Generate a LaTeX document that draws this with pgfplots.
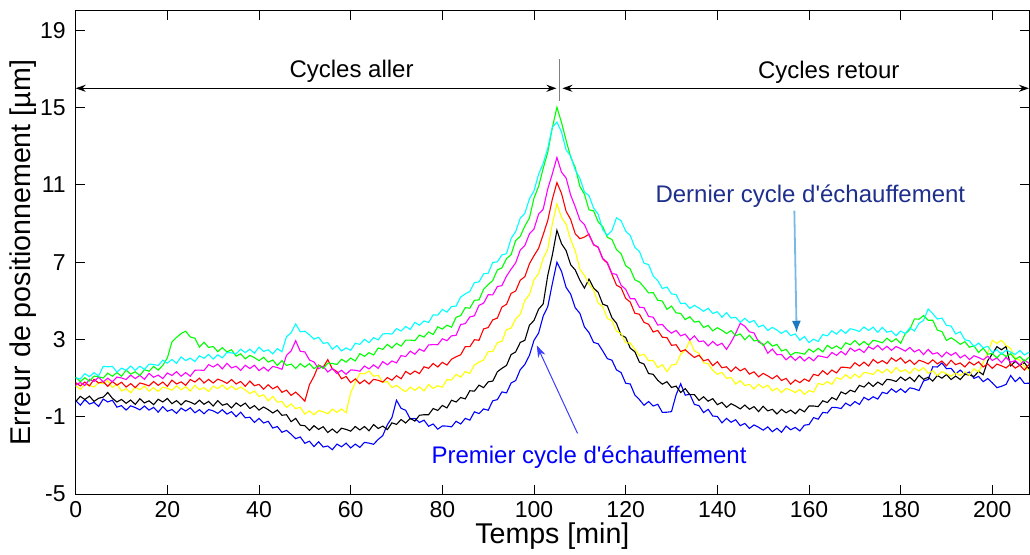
\documentclass[border=0pt]{standalone}
\usepackage{pgfplots}
\pgfplotsset{compat=1.18}
\usepackage{fontspec}
\setmainfont{Liberation Sans}
\usetikzlibrary{arrows.meta}

\definecolor{navytext}{RGB}{30,47,140}
\definecolor{skyline}{RGB}{120,185,230}
\definecolor{skyhead}{RGB}{30,120,190}
\definecolor{firstblue}{RGB}{60,60,255}
\definecolor{cblue}{RGB}{0,0,255}
\definecolor{cblack}{RGB}{0,0,0}
\definecolor{cyellow}{RGB}{255,255,0}
\definecolor{cred}{RGB}{255,0,0}
\definecolor{cmagenta}{RGB}{255,0,255}
\definecolor{cgreen}{RGB}{0,255,0}
\definecolor{ccyan}{RGB}{0,255,255}

\begin{document}
\begin{tikzpicture}
\begin{axis}[
  scale only axis,
  width=476.7pt, height=241.6pt,
  xmin=0, xmax=208, ymin=-5, ymax=20,
  xtick={0,20,...,200},
  ytick={-5,-1,3,7,11,15,19},
  tick pos=both,
  xticklabel pos=left, yticklabel pos=left,
  tick align=inside,
  major tick length=4.5pt,
  tick style={black, line width=0.5pt},
  axis line style={line width=0.5pt},
  ticklabel style={font=\fontsize{11.5}{13}\selectfont},
  yticklabel style={xshift=-1.5pt},
  /pgf/number format/assume math mode=true,
  xlabel={Temps [min]},
  ylabel={Erreur de positionnement [µm]},
  label style={font=\fontsize{14.3}{16}\selectfont},
  xlabel style={at={(axis description cs:0.5,-0.087)}, anchor=center},
  ylabel style={at={(axis description cs:-0.0548,0.5)}, anchor=center, rotate=0},
  clip=false,
  every axis plot/.append style={line width=0.55pt},
]

% cycle 1 (premier cycle)
\addplot[cblue] coordinates {(0,-0.16)(1,-0.40)(2,-0.11)(3,-0.34)(4,-0.25)(5,-0.46)(6,-0.08)(7,-0.23)(8,-0.14)(9,-0.50)(10,-0.42)(11,-0.65)(12,-0.43)(13,-0.52)(14,-0.64)(15,-0.44)(16,-0.65)(17,-0.51)(18,-0.76)(19,-0.47)(20,-0.71)(21,-0.62)(22,-0.82)(23,-0.55)(24,-0.70)(25,-0.53)(26,-0.79)(27,-0.63)(28,-0.84)(29,-0.62)(30,-0.69)(31,-0.82)(32,-0.63)(33,-0.86)(34,-0.73)(35,-0.99)(36,-0.76)(37,-1.05)(38,-1.02)(39,-1.29)(40,-1.08)(41,-1.32)(42,-1.23)(43,-1.58)(44,-1.50)(45,-1.80)(46,-1.70)(47,-1.90)(48,-2.13)(49,-2.04)(50,-2.37)(51,-2.26)(52,-2.54)(53,-2.29)(54,-2.56)(55,-2.51)(56,-2.70)(57,-2.41)(58,-2.55)(59,-2.36)(60,-2.61)(61,-2.41)(62,-2.58)(63,-2.32)(64,-2.36)(65,-2.42)(66,-2.17)(67,-1.97)(68,-1.41)(69,-1.04)(70,-0.14)(71,-0.56)(72,-0.66)(73,-1.11)(74,-1.08)(75,-1.29)(76,-1.17)(77,-1.49)(78,-1.37)(79,-1.64)(80,-1.47)(81,-1.48)(82,-1.52)(83,-1.23)(84,-1.37)(85,-1.08)(86,-1.17)(87,-0.74)(88,-0.83)(89,-0.59)(90,-0.66)(91,-0.17)(92,-0.11)(93,0.29)(94,0.24)(95,0.75)(96,0.88)(97,1.44)(98,1.71)(99,2.18)(100,2.96)(101,3.33)(102,4.21)(103,4.70)(104,5.89)(105,7.00)(106,6.53)(107,5.70)(108,5.35)(109,4.64)(110,4.36)(111,3.65)(112,3.36)(113,2.85)(114,2.78)(115,2.41)(116,2.01)(117,1.93)(118,1.43)(119,1.29)(120,0.74)(121,0.70)(122,0.13)(123,-0.11)(124,-0.40)(125,-0.21)(126,-0.44)(127,-0.35)(128,-0.77)(129,-0.76)(130,-0.73)(131,0.14)(132,0.71)(133,0.12)(134,0.17)(135,-0.36)(136,-0.42)(137,-0.78)(138,-0.61)(139,-0.96)(140,-0.98)(141,-1.31)(142,-1.08)(143,-1.28)(144,-1.15)(145,-1.46)(146,-1.34)(147,-1.60)(148,-1.42)(149,-1.54)(150,-1.69)(151,-1.52)(152,-1.77)(153,-1.59)(154,-1.80)(155,-1.48)(156,-1.67)(157,-1.55)(158,-1.73)(159,-1.43)(160,-1.40)(161,-1.04)(162,-1.12)(163,-0.77)(164,-0.80)(165,-0.51)(166,-0.52)(167,-0.57)(168,-0.29)(169,-0.43)(170,-0.21)(171,-0.36)(172,0.01)(173,-0.13)(174,0.04)(175,-0.08)(176,0.27)(177,0.20)(178,0.45)(179,0.27)(180,0.45)(181,0.26)(182,0.50)(183,0.45)(184,0.36)(185,0.86)(186,0.93)(187,1.59)(188,1.58)(189,1.79)(190,1.49)(191,1.51)(192,1.22)(193,1.42)(194,1.20)(195,1.32)(196,0.99)(197,1.09)(198,0.82)(199,0.98)(200,0.76)(201,0.51)(202,0.58)(203,0.68)(204,1.14)(205,0.82)(206,1.04)(207,0.73)(208,0.74)};

% cycle 2
\addplot[cblack] coordinates {(0,-0.21)(1,0.06)(2,-0.10)(3,0.07)(4,-0.20)(5,-0.04)(6,0.02)(7,0.26)(8,-0.04)(9,-0.23)(10,-0.10)(11,-0.30)(12,-0.13)(13,-0.36)(14,-0.06)(15,-0.28)(16,-0.17)(17,-0.37)(18,-0.09)(19,-0.23)(20,-0.05)(21,-0.32)(22,-0.16)(23,-0.38)(24,-0.16)(25,-0.24)(26,-0.35)(27,-0.14)(28,-0.35)(29,-0.20)(30,-0.44)(31,-0.16)(32,-0.40)(33,-0.32)(34,-0.54)(35,-0.28)(36,-0.45)(37,-0.29)(38,-0.57)(39,-0.42)(40,-0.65)(41,-0.49)(42,-0.63)(43,-0.80)(44,-0.65)(45,-0.92)(46,-0.89)(47,-1.25)(48,-1.08)(49,-1.43)(50,-1.46)(51,-1.70)(52,-1.46)(53,-1.65)(54,-1.51)(55,-1.81)(56,-1.63)(57,-1.83)(58,-1.59)(59,-1.65)(60,-1.74)(61,-1.50)(62,-1.68)(63,-1.50)(64,-1.72)(65,-1.40)(66,-1.60)(67,-1.48)(68,-1.66)(69,-1.31)(70,-1.39)(71,-1.14)(72,-1.32)(73,-1.08)(74,-1.22)(75,-0.92)(76,-0.89)(77,-0.89)(78,-0.57)(79,-0.67)(80,-0.41)(81,-0.54)(82,-0.14)(83,-0.23)(84,0.00)(85,-0.07)(86,0.35)(87,0.33)(88,0.64)(89,0.51)(90,0.81)(91,0.85)(92,1.33)(93,1.51)(94,1.66)(95,2.22)(96,2.36)(97,2.85)(98,2.96)(99,3.74)(100,3.99)(101,4.57)(102,4.84)(103,6.32)(104,7.37)(105,8.65)(106,7.96)(107,7.60)(108,6.87)(109,6.60)(110,6.07)(111,5.66)(112,6.13)(113,5.67)(114,5.44)(115,4.83)(116,4.74)(117,4.13)(118,3.84)(119,3.23)(120,3.11)(121,2.55)(122,2.37)(123,1.83)(124,1.73)(125,1.24)(126,1.20)(127,0.89)(128,0.69)(129,0.82)(130,0.52)(131,0.59)(132,0.26)(133,0.46)(134,0.15)(135,0.15)(136,-0.15)(137,0.04)(138,-0.19)(139,-0.06)(140,-0.37)(141,-0.25)(142,-0.51)(143,-0.32)(144,-0.44)(145,-0.59)(146,-0.39)(147,-0.61)(148,-0.47)(149,-0.73)(150,-0.45)(151,-0.69)(152,-0.61)(153,-0.85)(154,-0.61)(155,-0.79)(156,-0.65)(157,-0.84)(158,-0.60)(159,-0.74)(160,-0.44)(161,-0.44)(162,-0.47)(163,-0.17)(164,-0.26)(165,0.00)(166,-0.12)(167,0.29)(168,0.18)(169,0.38)(170,0.29)(171,0.63)(172,0.54)(173,0.78)(174,0.57)(175,0.80)(176,0.65)(177,0.94)(178,0.91)(179,0.83)(180,1.06)(181,0.88)(182,1.05)(183,0.83)(184,1.15)(185,0.94)(186,1.05)(187,0.85)(188,1.14)(189,1.00)(190,1.19)(191,0.93)(192,1.11)(193,0.93)(194,1.20)(195,1.16)(196,1.09)(197,1.35)(198,1.18)(199,1.91)(200,2.26)(201,2.63)(202,2.47)(203,2.64)(204,1.64)(205,1.87)(206,1.67)(207,1.80)(208,1.49)};

% cycle 3
\addplot[cyellow] coordinates {(0,0.61)(1,0.42)(2,0.67)(3,0.62)(4,0.54)(5,0.78)(6,0.71)(7,0.88)(8,0.52)(9,0.69)(10,0.34)(11,0.45)(12,0.25)(13,0.54)(14,0.40)(15,0.59)(16,0.33)(17,0.51)(18,0.31)(19,0.54)(20,0.48)(21,0.38)(22,0.60)(23,0.40)(24,0.56)(25,0.33)(26,0.63)(27,0.41)(28,0.51)(29,0.31)(30,0.59)(31,0.46)(32,0.65)(33,0.41)(34,0.59)(35,0.40)(36,0.54)(37,0.39)(38,0.20)(39,0.34)(40,0.05)(41,0.14)(42,-0.17)(43,0.06)(44,-0.24)(45,-0.21)(46,-0.51)(47,-0.33)(48,-0.58)(49,-0.50)(50,-0.86)(51,-0.69)(52,-0.90)(53,-0.67)(54,-0.74)(55,-0.84)(56,-0.60)(57,-0.77)(58,-0.59)(59,-0.79)(60,0.25)(61,0.77)(62,1.25)(63,1.22)(64,1.37)(65,1.10)(66,1.15)(67,0.78)(68,0.83)(69,0.51)(70,0.63)(71,0.45)(72,0.30)(73,0.54)(74,0.37)(75,0.55)(76,0.34)(77,0.67)(78,0.47)(79,0.61)(80,0.53)(81,0.93)(82,0.90)(83,1.20)(84,1.05)(85,1.34)(86,1.25)(87,1.69)(88,1.83)(89,1.94)(90,2.37)(91,2.38)(92,2.84)(93,2.91)(94,3.51)(95,3.59)(96,4.06)(97,4.30)(98,5.03)(99,5.32)(100,6.09)(101,6.42)(102,7.19)(103,7.67)(104,8.99)(105,10.02)(106,9.32)(107,8.96)(108,8.16)(109,7.59)(110,6.64)(111,6.32)(112,5.88)(113,5.56)(114,4.89)(115,4.70)(116,4.09)(117,3.98)(118,3.43)(119,3.31)(120,2.83)(121,2.82)(122,2.50)(123,2.16)(124,2.24)(125,1.90)(126,1.92)(127,1.54)(128,1.70)(129,1.34)(130,1.68)(131,1.72)(132,2.25)(133,2.44)(134,2.95)(135,2.41)(136,2.29)(137,1.80)(138,1.75)(139,1.41)(140,1.20)(141,1.30)(142,0.99)(143,1.04)(144,0.69)(145,0.88)(146,0.62)(147,0.68)(148,0.44)(149,0.69)(150,0.50)(151,0.64)(152,0.34)(153,0.49)(154,0.26)(155,0.47)(156,0.38)(157,0.26)(158,0.42)(159,0.16)(160,0.36)(161,0.28)(162,0.73)(163,0.66)(164,0.82)(165,0.68)(166,1.03)(167,0.94)(168,1.18)(169,0.98)(170,1.21)(171,1.03)(172,1.30)(173,1.26)(174,1.19)(175,1.44)(176,1.27)(177,1.47)(178,1.26)(179,1.56)(180,1.34)(181,1.44)(182,1.24)(183,1.52)(184,1.37)(185,1.55)(186,1.25)(187,1.39)(188,1.14)(189,1.34)(190,1.23)(191,1.10)(192,1.28)(193,1.13)(194,1.33)(195,1.15)(196,1.49)(197,1.32)(198,1.80)(199,2.33)(200,2.96)(201,2.80)(202,2.96)(203,2.69)(204,2.54)(205,2.02)(206,1.93)(207,1.60)(208,1.41)};

% cycle 4
\addplot[cred] coordinates {(0,0.77)(1,0.60)(2,0.80)(3,0.60)(4,0.94)(5,0.75)(6,0.82)(7,0.58)(8,0.83)(9,0.64)(10,0.79)(11,0.54)(12,0.72)(13,0.51)(14,0.75)(15,0.69)(16,0.60)(17,0.83)(18,0.63)(19,0.80)(20,0.58)(21,0.90)(22,0.70)(23,0.81)(24,0.63)(25,0.93)(26,0.80)(27,1.00)(28,0.75)(29,0.94)(30,0.75)(31,0.95)(32,0.86)(33,0.73)(34,0.93)(35,0.70)(36,0.83)(37,0.58)(38,0.85)(39,0.61)(40,0.68)(41,0.43)(42,0.66)(43,0.45)(44,0.58)(45,0.27)(46,0.38)(47,0.11)(48,0.28)(49,0.06)(50,-0.19)(51,0.66)(52,1.10)(53,1.68)(54,1.56)(55,1.96)(56,1.49)(57,1.34)(58,0.97)(59,1.09)(60,0.77)(61,0.96)(62,0.72)(63,0.90)(64,0.70)(65,0.94)(66,0.89)(67,0.80)(68,1.03)(69,0.90)(70,1.13)(71,0.97)(72,1.35)(73,1.20)(74,1.37)(75,1.24)(76,1.59)(77,1.51)(78,1.76)(79,1.58)(80,1.82)(81,1.68)(82,1.98)(83,2.11)(84,2.21)(85,2.63)(86,2.63)(87,2.99)(88,2.96)(89,3.55)(90,3.62)(91,4.02)(92,4.11)(93,4.68)(94,4.82)(95,5.39)(96,5.51)(97,6.07)(98,6.25)(99,6.92)(100,7.34)(101,7.72)(102,8.43)(103,9.16)(104,10.26)(105,11.12)(106,10.56)(107,9.64)(108,9.21)(109,8.47)(110,8.22)(111,8.30)(112,8.45)(113,7.90)(114,7.78)(115,7.17)(116,6.95)(117,6.38)(118,5.81)(119,5.68)(120,5.13)(121,4.94)(122,4.36)(123,4.31)(124,3.89)(125,3.79)(126,3.39)(127,3.47)(128,3.12)(129,3.10)(130,2.70)(131,2.73)(132,2.38)(133,2.47)(134,2.26)(135,2.07)(136,2.19)(137,1.90)(138,1.97)(139,1.65)(140,1.85)(141,1.54)(142,1.59)(143,1.35)(144,1.58)(145,1.38)(146,1.51)(147,1.21)(148,1.33)(149,1.07)(150,1.25)(151,1.12)(152,0.97)(153,1.14)(154,0.88)(155,0.99)(156,0.69)(157,0.91)(158,0.77)(159,0.96)(160,0.84)(161,1.20)(162,1.13)(163,1.39)(164,1.19)(165,1.42)(166,1.27)(167,1.57)(168,1.56)(169,1.52)(170,1.80)(171,1.63)(172,1.83)(173,1.63)(174,1.97)(175,1.78)(176,1.91)(177,1.75)(178,2.05)(179,1.88)(180,2.05)(181,1.78)(182,1.94)(183,1.71)(184,1.93)(185,1.85)(186,1.74)(187,1.95)(188,1.74)(189,1.89)(190,1.64)(191,1.93)(192,1.70)(193,1.79)(194,1.58)(195,1.84)(196,1.68)(197,1.85)(198,1.58)(199,1.74)(200,1.51)(201,1.73)(202,1.64)(203,1.53)(204,1.74)(205,1.52)(206,1.67)(207,1.42)(208,1.71)};

% cycle 5
\addplot[cmagenta] coordinates {(0,0.64)(1,0.78)(2,0.62)(3,0.94)(4,0.83)(5,1.05)(6,0.81)(7,1.00)(8,0.81)(9,1.06)(10,1.01)(11,0.93)(12,1.16)(13,0.98)(14,1.15)(15,0.94)(16,1.25)(17,1.05)(18,1.16)(19,0.98)(20,1.27)(21,1.14)(22,1.34)(23,1.10)(24,1.29)(25,1.10)(26,1.41)(27,1.42)(28,1.40)(29,1.70)(30,1.58)(31,1.73)(32,1.48)(33,1.77)(34,1.53)(35,1.62)(36,1.40)(37,1.67)(38,1.50)(39,1.67)(40,1.39)(41,1.57)(42,1.37)(43,1.61)(44,1.55)(45,1.46)(46,2.18)(47,2.41)(48,2.94)(49,2.39)(50,2.36)(51,1.94)(52,1.84)(53,1.49)(54,1.62)(55,1.32)(56,1.50)(57,1.24)(58,1.41)(59,1.20)(60,1.43)(61,1.41)(62,1.36)(63,1.63)(64,1.48)(65,1.69)(66,1.51)(67,1.86)(68,1.69)(69,1.89)(70,1.79)(71,2.17)(72,2.12)(73,2.40)(74,2.24)(75,2.51)(76,2.39)(77,2.72)(78,2.74)(79,2.73)(80,3.04)(81,2.94)(82,3.19)(83,3.22)(84,3.78)(85,3.82)(86,4.17)(87,4.23)(88,4.77)(89,4.88)(90,5.32)(91,5.31)(92,5.74)(93,5.79)(94,6.28)(95,6.64)(96,6.97)(97,7.63)(98,7.86)(99,8.47)(100,8.72)(101,9.49)(102,9.74)(103,10.80)(104,11.57)(105,12.42)(106,11.66)(107,11.36)(108,10.47)(109,9.87)(110,9.19)(111,8.95)(112,8.40)(113,7.92)(114,7.77)(115,7.20)(116,6.99)(117,6.42)(118,6.37)(119,5.81)(120,5.60)(121,5.11)(122,5.11)(123,4.67)(124,4.65)(125,4.19)(126,4.16)(127,3.75)(128,3.78)(129,3.51)(130,3.33)(131,3.47)(132,3.19)(133,3.28)(134,2.97)(135,3.19)(136,2.89)(137,2.93)(138,2.67)(139,2.90)(140,2.69)(141,2.81)(142,2.49)(143,2.86)(144,3.32)(145,3.84)(146,3.69)(147,3.40)(148,3.34)(149,2.87)(150,2.76)(151,2.29)(152,2.51)(153,2.21)(154,2.23)(155,1.95)(156,2.15)(157,1.92)(158,2.13)(159,1.89)(160,2.09)(161,1.90)(162,2.16)(163,2.11)(164,2.06)(165,2.33)(166,2.18)(167,2.39)(168,2.21)(169,2.56)(170,2.39)(171,2.51)(172,2.33)(173,2.63)(174,2.50)(175,2.70)(176,2.46)(177,2.65)(178,2.44)(179,2.64)(180,2.53)(181,2.40)(182,2.59)(183,2.36)(184,2.48)(185,2.22)(186,2.49)(187,2.25)(188,2.32)(189,2.10)(190,2.35)(191,2.18)(192,2.33)(193,2.05)(194,2.20)(195,1.96)(196,2.16)(197,2.07)(198,1.95)(199,2.14)(200,1.92)(201,2.05)(202,1.80)(203,2.08)(204,1.83)(205,1.91)(206,1.69)(207,1.94)(208,1.77)};

% cycle 6
\addplot[cgreen] coordinates {(0,1.05)(1,0.82)(2,1.02)(3,0.85)(4,1.11)(5,1.07)(6,1.01)(7,1.26)(8,1.10)(9,1.29)(10,1.10)(11,1.42)(12,1.21)(13,1.33)(14,1.14)(15,1.44)(16,1.36)(17,1.61)(18,1.42)(19,1.66)(20,2.05)(21,2.88)(22,3.11)(23,3.31)(24,3.43)(25,3.13)(26,3.07)(27,2.61)(28,2.86)(29,2.59)(30,2.64)(31,2.37)(32,2.58)(33,2.36)(34,2.47)(35,2.14)(36,2.26)(37,2.00)(38,2.18)(39,2.06)(40,1.91)(41,2.08)(42,1.83)(43,1.94)(44,1.66)(45,1.91)(46,1.66)(47,1.73)(48,1.50)(49,1.75)(50,1.57)(51,1.75)(52,1.49)(53,1.66)(54,1.50)(55,1.78)(56,1.76)(57,1.71)(58,1.98)(59,1.83)(60,2.04)(61,1.89)(62,2.27)(63,2.13)(64,2.32)(65,2.20)(66,2.56)(67,2.49)(68,2.75)(69,2.56)(70,2.80)(71,2.66)(72,2.97)(73,2.97)(74,2.94)(75,3.23)(76,3.13)(77,3.39)(78,3.26)(79,3.66)(80,3.54)(81,3.74)(82,3.64)(83,4.15)(84,4.24)(85,4.65)(86,4.62)(87,5.03)(88,5.05)(89,5.60)(90,5.84)(91,6.06)(92,6.60)(93,6.71)(94,7.19)(95,7.39)(96,8.12)(97,8.34)(98,8.87)(99,9.29)(100,10.32)(101,10.92)(102,11.85)(103,12.69)(104,13.96)(105,15.02)(106,14.23)(107,13.31)(108,12.44)(109,11.90)(110,10.93)(111,10.52)(112,9.71)(113,9.66)(114,9.09)(115,8.84)(116,8.29)(117,8.18)(118,7.65)(119,7.44)(120,6.82)(121,6.65)(122,6.09)(123,5.98)(124,5.71)(125,5.41)(126,5.43)(127,5.03)(128,4.99)(129,4.56)(130,4.73)(131,4.38)(132,4.35)(133,4.03)(134,4.18)(135,3.90)(136,3.95)(137,3.62)(138,3.73)(139,3.45)(140,3.61)(141,3.48)(142,3.31)(143,3.46)(144,3.20)(145,3.29)(146,2.99)(147,3.22)(148,2.93)(149,2.96)(150,2.69)(151,2.90)(152,2.66)(153,2.75)(154,2.41)(155,2.49)(156,2.19)(157,2.33)(158,2.30)(159,2.24)(160,2.51)(161,2.35)(162,2.55)(163,2.36)(164,2.70)(165,2.53)(166,2.67)(167,2.51)(168,2.83)(169,2.73)(170,2.95)(171,2.71)(172,2.90)(173,2.71)(174,2.96)(175,2.91)(176,2.83)(177,3.07)(178,2.88)(179,3.04)(180,2.81)(181,3.29)(182,3.52)(183,4.07)(184,4.05)(185,4.24)(186,4.00)(187,4.00)(188,3.49)(189,3.41)(190,2.95)(191,3.09)(192,2.94)(193,2.75)(194,2.89)(195,2.60)(196,2.67)(197,2.33)(198,2.55)(199,2.24)(200,2.28)(201,2.05)(202,2.30)(203,2.12)(204,2.27)(205,1.98)(206,2.12)(207,1.88)(208,2.08)};

% cycle 7 (dernier cycle)
\addplot[ccyan] coordinates {(0,1.01)(1,0.96)(2,1.23)(3,1.08)(4,1.29)(5,1.11)(6,1.61)(7,1.59)(8,1.61)(9,1.32)(10,1.52)(11,1.41)(12,1.63)(13,1.41)(14,1.62)(15,1.45)(16,1.73)(17,1.71)(18,1.66)(19,1.93)(20,1.78)(21,1.97)(22,1.77)(23,2.10)(24,1.91)(25,2.04)(26,1.86)(27,2.16)(28,2.03)(29,2.23)(30,1.99)(31,2.21)(32,2.05)(33,2.33)(34,2.31)(35,2.26)(36,2.50)(37,2.32)(38,2.50)(39,2.29)(40,2.61)(41,2.38)(42,2.47)(43,2.26)(44,2.53)(45,2.37)(46,3.15)(47,3.34)(48,3.81)(49,3.40)(50,3.43)(51,3.24)(52,3.02)(53,3.12)(54,2.80)(55,2.84)(56,2.50)(57,2.69)(58,2.41)(59,2.57)(60,2.44)(61,2.81)(62,2.75)(63,3.01)(64,2.84)(65,3.10)(66,2.98)(67,3.29)(68,3.31)(69,3.28)(70,3.57)(71,3.44)(72,3.68)(73,3.52)(74,3.89)(75,3.74)(76,3.96)(77,3.88)(78,4.28)(79,4.26)(80,4.56)(81,4.42)(82,4.71)(83,4.73)(84,5.20)(85,5.36)(86,5.49)(87,5.95)(88,5.98)(89,6.40)(90,6.43)(91,6.99)(92,7.02)(93,7.38)(94,7.44)(95,8.23)(96,8.59)(97,9.28)(98,9.53)(99,10.28)(100,10.70)(101,11.55)(102,12.11)(103,12.89)(104,13.99)(105,14.25)(106,13.74)(107,12.81)(108,12.50)(109,11.77)(110,11.35)(111,10.64)(112,10.44)(113,9.81)(114,9.49)(115,8.68)(116,8.40)(117,8.63)(118,9.30)(119,9.15)(120,8.61)(121,8.39)(122,7.77)(123,7.56)(124,6.95)(125,6.88)(126,6.29)(127,6.05)(128,5.64)(129,5.72)(130,5.36)(131,5.33)(132,4.86)(133,4.88)(134,4.61)(135,4.77)(136,4.63)(137,4.46)(138,4.62)(139,4.35)(140,4.44)(141,4.15)(142,4.39)(143,4.11)(144,4.15)(145,3.89)(146,4.10)(147,3.88)(148,3.99)(149,3.65)(150,3.75)(151,3.47)(152,3.63)(153,3.49)(154,3.32)(155,3.47)(156,3.20)(157,3.29)(158,2.96)(159,3.16)(160,2.84)(161,3.02)(162,2.90)(163,3.26)(164,3.19)(165,3.45)(166,3.28)(167,3.51)(168,3.32)(169,3.56)(170,3.50)(171,3.42)(172,3.65)(173,3.47)(174,3.64)(175,3.37)(176,3.63)(177,3.38)(178,3.44)(179,3.20)(180,3.44)(181,3.31)(182,3.60)(183,3.44)(184,3.84)(185,3.99)(186,4.58)(187,4.34)(188,4.06)(189,4.11)(190,3.73)(191,3.70)(192,3.29)(193,3.40)(194,2.99)(195,2.93)(196,2.63)(197,2.82)(198,2.57)(199,2.65)(200,2.33)(201,2.47)(202,2.24)(203,2.45)(204,2.35)(205,2.23)(206,2.43)(207,2.20)(208,2.34)};

% phase markers
\draw[line width=0.5pt, {Stealth[length=5pt,width=3.5pt]}-{Stealth[length=5pt,width=3.5pt]}]
  (axis cs:0,16) -- (axis cs:104.9,16);
\draw[line width=0.5pt, {Stealth[length=5pt,width=3.5pt]}-{Stealth[length=5pt,width=3.5pt]}]
  (axis cs:106.2,16) -- (axis cs:208,16);
\draw[gray, line width=0.6pt] (axis cs:105.5,15.35) -- (axis cs:105.5,17.5);
\node[anchor=base, font=\fontsize{12}{14}\selectfont] at (axis cs:60.2,16.55) {Cycles aller};
\node[anchor=base, font=\fontsize{12}{14}\selectfont] at (axis cs:164.3,16.5) {Cycles retour};

% cycle annotations
\node[anchor=base, text=navytext, font=\fontsize{12}{14}\selectfont] at (axis cs:160.3,10.1) {Dernier cycle d\textquotesingle échauffement};
\draw[skyline, line width=0.9pt, -{Latex[length=6pt,width=4.5pt,fill=skyhead,color=skyhead]}]
  (axis cs:156.8,9.67) -- (axis cs:157.3,3.35);
\node[anchor=base, text=cblue, font=\fontsize{12}{14}\selectfont] at (axis cs:112,-3.39) {Premier cycle d\textquotesingle échauffement};
\draw[firstblue, line width=0.5pt, -{Stealth[length=6pt,width=4pt]}]
  (axis cs:109.5,-1.86) -- (axis cs:100.6,2.7);

\coordinate (ll) at (rel axis cs:0,0);
\coordinate (ur) at (rel axis cs:1,1);
\end{axis}
\pgfresetboundingbox
\path[use as bounding box] ([xshift=-37.85pt,yshift=-30.4pt]ll) rectangle ([xshift=0.5pt,yshift=5.5pt]ur);
\end{tikzpicture}
\end{document}
